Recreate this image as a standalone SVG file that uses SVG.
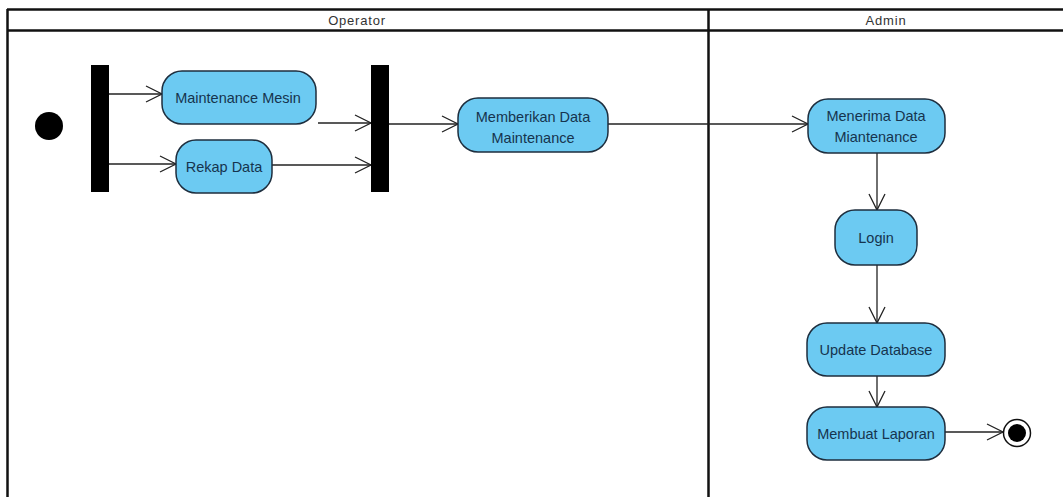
<svg xmlns="http://www.w3.org/2000/svg" width="1063" height="497" viewBox="0 0 1063 497">
<defs>
<marker id="open" viewBox="0 0 20 20" refX="17" refY="10" markerWidth="20" markerHeight="20" markerUnits="userSpaceOnUse" orient="auto">
<path d="M1,2 L17,10 L1,18" fill="none" stroke="#222" stroke-width="1.3"/>
</marker>
<style>
.lane{fill:none;stroke:#111;stroke-width:2.5}
.hdr{font-family:"Liberation Sans",Arial,sans-serif;font-size:13px;letter-spacing:0.8px;fill:#333;text-anchor:middle}
.act{fill:#6ccaf2;stroke:#1e2e3e;stroke-width:1.5}
.lbl{font-family:"Liberation Sans",Arial,sans-serif;font-size:14.5px;fill:#16344e;text-anchor:middle}
.bar{fill:#000}
.edge{fill:none;stroke:#222;stroke-width:1.3;marker-end:url(#open)}
</style>
</defs>
<rect width="1063" height="497" fill="#fff"/>
<g id="swimlanes">
<line class="lane" x1="7" y1="9.5" x2="1063" y2="9.5"/>
<line class="lane" x1="7" y1="30.5" x2="1063" y2="30.5"/>
<line class="lane" x1="7.5" y1="9" x2="7.5" y2="497"/>
<line class="lane" x1="708.5" y1="9" x2="708.5" y2="497"/>
<text class="hdr" x="357" y="25">Operator</text>
<text class="hdr" x="886" y="25">Admin</text>
</g>
<g id="connectors">
<line class="edge" x1="109" y1="94" x2="162" y2="94"/>
<line class="edge" x1="109" y1="164" x2="176" y2="164"/>
<line class="edge" x1="318" y1="123" x2="371" y2="123"/>
<line class="edge" x1="272" y1="165" x2="371" y2="165"/>
<line class="edge" x1="389" y1="124" x2="458" y2="124"/>
<line class="edge" x1="608" y1="124" x2="808" y2="124"/>
<line class="edge" x1="877" y1="153" x2="877" y2="210"/>
<line class="edge" x1="877" y1="265" x2="877" y2="323"/>
<line class="edge" x1="877" y1="376" x2="877" y2="407"/>
<line class="edge" x1="945" y1="432" x2="1003" y2="432"/>
</g>
<g id="start"><circle cx="49" cy="126" r="14" fill="#000"/></g>
<g id="fork"><rect class="bar" x="91" y="65" width="18" height="127"/></g>
<g id="join"><rect class="bar" x="371" y="65" width="18" height="127"/></g>
<g id="maintenance-mesin">
<rect class="act" x="162" y="71" width="154" height="53" rx="20"/>
<text class="lbl" x="238" y="103">Maintenance Mesin</text>
</g>
<g id="rekap-data">
<rect class="act" x="176" y="140" width="96" height="53" rx="20"/>
<text class="lbl" x="224" y="172">Rekap Data</text>
</g>
<g id="memberikan-data">
<rect class="act" x="458" y="98" width="150" height="54" rx="20"/>
<text class="lbl" x="533" y="122">Memberikan Data</text>
<text class="lbl" x="533" y="143">Maintenance</text>
</g>
<g id="menerima-data">
<rect class="act" x="808" y="99" width="137" height="54" rx="20"/>
<text class="lbl" x="876" y="121">Menerima Data</text>
<text class="lbl" x="876" y="142">Miantenance</text>
</g>
<g id="login">
<rect class="act" x="835" y="210" width="82" height="55" rx="20"/>
<text class="lbl" x="876" y="243">Login</text>
</g>
<g id="update-database">
<rect class="act" x="807" y="323" width="138" height="53" rx="20"/>
<text class="lbl" x="876" y="355">Update Database</text>
</g>
<g id="membuat-laporan">
<rect class="act" x="807" y="407" width="138" height="53" rx="20"/>
<text class="lbl" x="876" y="439">Membuat Laporan</text>
</g>
<g id="end">
<circle cx="1017" cy="433" r="13.5" fill="#fff" stroke="#111" stroke-width="1.5"/>
<circle cx="1017" cy="433" r="9" fill="#000"/>
</g>
</svg>
